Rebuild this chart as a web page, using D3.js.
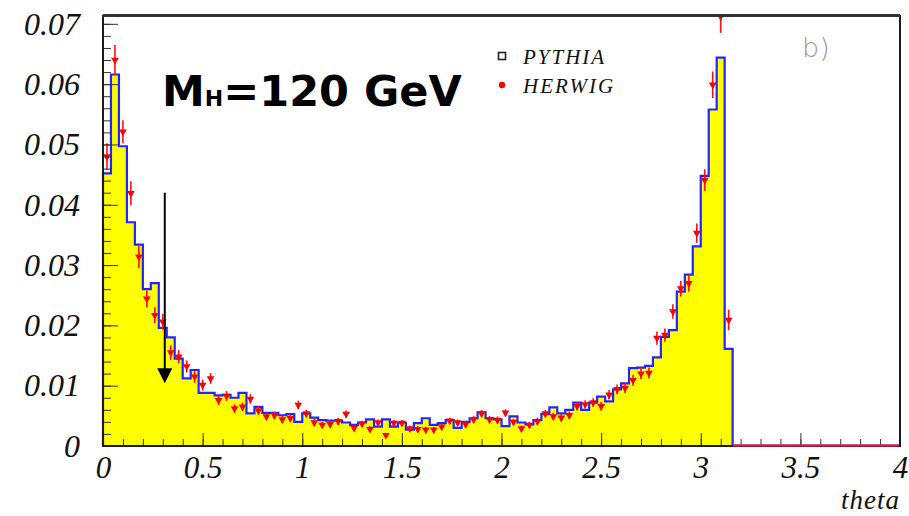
<!DOCTYPE html>
<html>
<head>
<meta charset="utf-8">
<script src="https://cdn.jsdelivr.net/npm/d3@7"></script>
<style>
body { margin: 0; background: #fff; }
svg { display: block; background: #fff; }
.axis text { font-family: "Liberation Serif", "DejaVu Serif", serif; font-style: italic; font-size: 31px; fill: #111; }
.axis line { stroke: #333; stroke-width: 1; }
.axis path { display: none; }
</style>
</head>
<body>
<svg width="909" height="516"></svg>
<script>
// PYTHIA histogram, bins of 0.04 in theta starting at 0
var pythia = [
  0.0452, 0.0616, 0.0497, 0.0371, 0.0334, 0.0260, 0.0270, 0.0196, 0.0180, 0.0145,
  0.0112, 0.0126, 0.0088, 0.0088, 0.0084, 0.0085, 0.0080, 0.0088, 0.0054, 0.0065,
  0.0055, 0.0055, 0.0051, 0.0053, 0.0040, 0.0054, 0.0047, 0.0043, 0.0042, 0.0042,
  0.0039, 0.0035, 0.0039, 0.0044, 0.0032, 0.0044, 0.0032, 0.0039, 0.0027, 0.0038,
  0.0046, 0.0035, 0.0038, 0.0043, 0.0030, 0.0040, 0.0046, 0.0056, 0.0046, 0.0044,
  0.0033, 0.0049, 0.0039, 0.0036, 0.0043, 0.0053, 0.0064, 0.0054, 0.0060, 0.0072,
  0.0060, 0.0072, 0.0082, 0.0074, 0.0094, 0.0104, 0.0129, 0.0130, 0.0133, 0.0147,
  0.0181, 0.0192, 0.0256, 0.0284, 0.0331, 0.0448, 0.0558, 0.0644, 0.0161
];

// HERWIG points, same bins
var herwig = [
  0.0480, 0.0640, 0.0521, 0.0419, 0.0314, 0.0244, 0.0217, 0.0206, 0.0155, 0.0148,
  0.0132, 0.0115, 0.0101, 0.0112, 0.0076, 0.0083, 0.0062, 0.0065, 0.0078, 0.0059,
  0.0049, 0.0051, 0.0044, 0.0046, 0.0068, 0.0054, 0.0039, 0.0035, 0.0036, 0.0041,
  0.0053, 0.0030, 0.0037, 0.0028, 0.0039, 0.0018, 0.0038, 0.0038, 0.0029, 0.0028,
  0.0027, 0.0027, 0.0032, 0.0042, 0.0039, 0.0036, 0.0044, 0.0054, 0.0044, 0.0043,
  0.0055, 0.0040, 0.0029, 0.0035, 0.0041, 0.0054, 0.0049, 0.0047, 0.0051, 0.0066,
  0.0069, 0.0072, 0.0066, 0.0085, 0.0094, 0.0096, 0.0109, 0.0120, 0.0121, 0.0179,
  0.0184, 0.0223, 0.0261, 0.0270, 0.0353, 0.0441, 0.0599, 0.0712, 0.0209
];

var herwigErr = [
  0.0022, 0.0025, 0.0019, 0.0020, 0.0019, 0.0014, 0.0013, 0.0013, 0.0012, 0.0011,
  0.0010, 0.0010, 0.0009, 0.0009, 0.0008, 0.0008, 0.0007, 0.0007, 0.0008, 0.0007,
  0.0006, 0.0006, 0.0006, 0.0006, 0.0007, 0.0006, 0.0006, 0.0005, 0.0005, 0.0006,
  0.0006, 0.0005, 0.0005, 0.0005, 0.0005, 0.0004, 0.0005, 0.0005, 0.0005, 0.0005,
  0.0005, 0.0005, 0.0005, 0.0005, 0.0005, 0.0005, 0.0006, 0.0006, 0.0006, 0.0006,
  0.0006, 0.0005, 0.0005, 0.0005, 0.0006, 0.0006, 0.0006, 0.0006, 0.0006, 0.0007,
  0.0007, 0.0007, 0.0007, 0.0008, 0.0008, 0.0008, 0.0009, 0.0009, 0.0009, 0.0011,
  0.0011, 0.0012, 0.0013, 0.0014, 0.0016, 0.0018, 0.0022, 0.0027, 0.0017
];

var binWidth = 0.04;
var xMajor = [0, 0.5, 1, 1.5, 2, 2.5, 3, 3.5, 4];
var yMajor = [0, 0.01, 0.02, 0.03, 0.04, 0.05, 0.06, 0.07];
var legendNames = ["PYTHIA", "HERWIG"];
var arrowTheta = 0.31, arrowFrom = 0.042, arrowTo = 0.0104;

var svg = d3.select("svg"),
  margin = {top: 16, right: 9, bottom: 70, left: 103},
  width = +svg.attr("width") - margin.left - margin.right,
  height = +svg.attr("height") - margin.top - margin.bottom;

var x = d3.scaleLinear().domain([0, 4]).range([0, width]),
  y = d3.scaleLinear().domain([0, 0.0713]).range([height, 0]);

svg.append("defs").append("clipPath")
  .attr("id", "clip")
  .append("rect")
  .attr("width", width)
  .attr("height", height);

var g = svg.append("g")
  .attr("transform", "translate(" + margin.left + "," + margin.top + ")");

// step points for the histogram
var edge = function(i) { return i * binWidth; };
var steps = [[0, 0]];
pythia.forEach(function(v, i) { steps.push([edge(i), v]); });
steps.push([edge(pythia.length), pythia[pythia.length - 1]]);
steps.push([edge(pythia.length), 0]);

var area = d3.area()
  .curve(d3.curveStepAfter)
  .x(function(d) { return x(d[0]); })
  .y0(y(0))
  .y1(function(d) { return y(d[1]); });

var line = d3.line()
  .curve(d3.curveStepAfter)
  .x(function(d) { return x(d[0]); })
  .y(function(d) { return y(d[1]); });

g.append("path")
  .datum(steps)
  .attr("d", area)
  .attr("fill", "#ffff00");

g.append("path")
  .datum(steps)
  .attr("d", line)
  .attr("fill", "none")
  .attr("stroke", "#2424ff")
  .attr("stroke-width", 2.2);

// herwig points
var pts = g.append("g").attr("clip-path", "url(#clip)")
  .selectAll("g")
  .data(herwig)
  .enter()
  .append("g")
  .attr("transform", function(d, i) {
    return "translate(" + x(edge(i) + binWidth / 2) + "," + y(d) + ")";
  });

pts.append("line")
  .attr("x1", 0)
  .attr("x2", 0)
  .attr("y1", function(d, i) { return y(d + herwigErr[i]) - y(d); })
  .attr("y2", function(d, i) { return y(d - herwigErr[i]) - y(d); })
  .attr("stroke", "#ff1010")
  .attr("stroke-width", 1.6);

pts.append("path")
  .attr("d", d3.symbol().type(d3.symbolTriangle).size(26))
  .attr("transform", "rotate(180)")
  .attr("fill", "#ff0000");

// arrow
g.append("line")
  .attr("x1", x(arrowTheta))
  .attr("x2", x(arrowTheta))
  .attr("y1", y(arrowFrom))
  .attr("y2", y(arrowTo) - 12)
  .attr("stroke", "#000")
  .attr("stroke-width", 2);

g.append("path")
  .attr("d", "M" + (x(arrowTheta) - 7.5) + "," + (y(arrowTo) - 15) +
    "L" + (x(arrowTheta) + 7.5) + "," + (y(arrowTo) - 15) +
    "L" + x(arrowTheta) + "," + y(arrowTo) + "Z")
  .attr("fill", "#000");

// axes, minor then major
g.append("g")
  .attr("class", "axis")
  .attr("transform", "translate(0," + height + ")")
  .call(d3.axisBottom(x).ticks(40).tickSize(-7).tickFormat(""));

g.append("g")
  .attr("class", "axis")
  .attr("transform", "translate(0," + height + ")")
  .call(d3.axisBottom(x).tickValues(xMajor).tickSize(-13).tickPadding(10)
    .tickFormat(d3.format("")));

g.append("g")
  .attr("class", "axis")
  .call(d3.axisLeft(y).tickValues(d3.range(0, 0.0712, 0.002)).tickSize(-8).tickFormat(""));

g.append("g")
  .attr("class", "axis y")
  .call(d3.axisLeft(y).tickValues(yMajor).tickSize(-15).tickPadding(23)
    .tickFormat(function(d) { return d === 0 ? "0" : d3.format(".2f")(d); }));

g.select(".axis.y").selectAll("text").style("font-size", "32px");

// frame
g.append("rect")
  .attr("width", width)
  .attr("height", height)
  .attr("fill", "none")
  .attr("stroke", "#1a1a1a")
  .attr("stroke-width", 2);

g.append("line")
  .attr("x1", 0)
  .attr("x2", width)
  .attr("y1", -0.5)
  .attr("y2", -0.5)
  .attr("stroke", "#333")
  .attr("stroke-width", 3);

// empty bins past the end
g.append("line")
  .attr("x1", x(edge(pythia.length)))
  .attr("x2", x(4) - 1)
  .attr("y1", y(0) - 0.5)
  .attr("y2", y(0) - 0.5)
  .attr("stroke", "#c8204c")
  .attr("stroke-width", 2.5);

svg.append("text")
  .attr("x", margin.left + width)
  .attr("y", 509)
  .attr("text-anchor", "end")
  .style("font-family", "'Liberation Serif', serif")
  .style("font-style", "italic")
  .style("font-size", "27px")
  .style("letter-spacing", "1px")
  .attr("fill", "#111")
  .text("theta");

// title
var title = svg.append("text")
  .attr("x", 162)
  .attr("y", 106)
  .style("font-family", "'DejaVu Sans', sans-serif")
  .style("font-weight", "bold")
  .style("font-size", "43px")
  .attr("fill", "#000");
title.append("tspan").text("M");
title.append("tspan").style("font-size", "22px").text("H");
title.append("tspan").text("=120 GeV");

// legend
var legend = svg.append("g").attr("transform", "translate(502,56)");
legend.append("rect")
  .attr("x", -3.5)
  .attr("y", -3.5)
  .attr("width", 7)
  .attr("height", 7)
  .attr("fill", "none")
  .attr("stroke", "#222")
  .attr("stroke-width", 1.6);
legend.append("circle")
  .attr("cx", 0)
  .attr("cy", 29)
  .attr("r", 3.2)
  .attr("fill", "#ff0000");
legend.selectAll("text")
  .data(legendNames)
  .enter()
  .append("text")
  .attr("x", 21)
  .attr("y", function(d, i) { return 8 + i * 29; })
  .style("font-family", "'Liberation Serif', serif")
  .style("font-style", "italic")
  .style("font-size", "21px")
  .style("letter-spacing", "2px")
  .attr("fill", "#111")
  .text(function(d) { return d; });

svg.append("text")
  .attr("x", 802)
  .attr("y", 57)
  .style("font-family", "'DejaVu Sans', sans-serif")
  .style("font-weight", "200")
  .style("font-size", "27px")
  .attr("fill", "#999")
  .text("b)");
</script>
</body>
</html>
